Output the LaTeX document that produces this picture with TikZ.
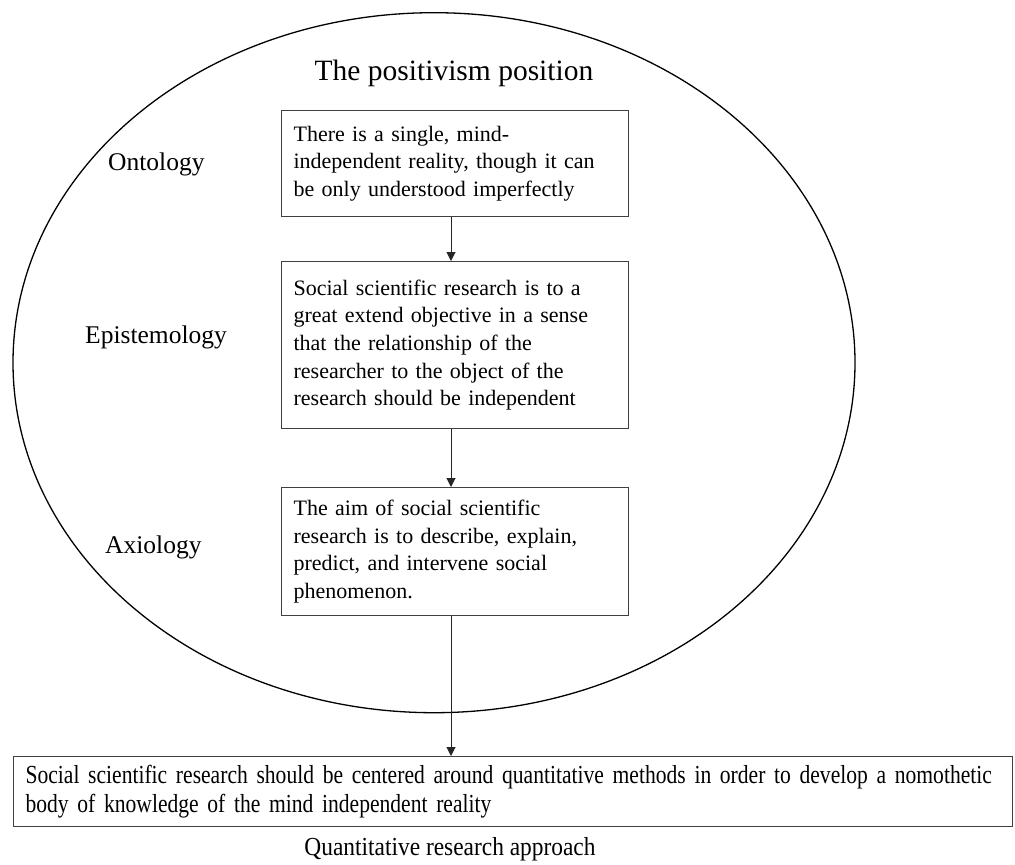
\documentclass[tikz,border=0pt]{standalone}
\usepackage{fontspec}
\setmainfont{Liberation Serif}
\newfontfamily\condfont[FakeStretch=0.83]{Liberation Serif}
\newfontfamily\capfont[FakeStretch=0.9]{Liberation Serif}
\usetikzlibrary{arrows.meta}
\tikzset{
  x=1pt, y=-1pt,
  stepbox/.style={draw=black!75, line width=1.2pt, anchor=north west, align=left,
    inner xsep=12pt, inner ysep=0pt,
    font=\fontsize{22}{27.7}\selectfont},
  lbl/.style={font=\fontsize{25.5}{30}\selectfont, anchor=west, inner sep=0pt},
  arr/.style={draw=black!85, line width=1pt, -{Triangle[length=9pt,width=9pt]}},
}
\begin{document}
\begin{tikzpicture}
\useasboundingbox (0,0) rectangle (1015,865);
\fill[white] (0,0) rectangle (1015,865);
% ellipse
\draw[line width=1.3pt] (434,362.7) ellipse [x radius=421, y radius=350];
% title
\node[font=\fontsize{29.5}{34}\selectfont, inner sep=0pt] (title) at (454,73) {The positivism position};
% labels
\node[lbl] (onto) at (108,164) {Ontology};
\node[lbl] (epis) at (85,337) {Epistemology};
\node[lbl] (axio) at (105,547) {Axiology};
% boxes
\node[stepbox, text width=323pt, minimum height=106pt] (b1) at (281,110)
  {There is a single, mind-\\independent reality, though it can\\be only understood imperfectly};
\node[stepbox, text width=323pt, minimum height=167pt] (b2) at (281,261)
  {Social scientific research is to a\\great extend objective in a sense\\that the relationship of the\\researcher to the object of the\\research should be independent};
\node[stepbox, text width=975pt, minimum height=70pt,
  font=\condfont\fontsize{26}{29.5}\selectfont] (b4) at (13,756)
  {\mbox{Social scientific research should be centered around quantitative methods in order to develop a nomothetic}\\body of knowledge of the mind independent reality};
\node[stepbox, text width=323pt, minimum height=128pt] (b3) at (281,487)
  {The aim of social scientific\\research is to describe, explain,\\predict, and intervene social\\phenomenon.};
% caption
\node[font=\capfont\fontsize{26}{30}\selectfont, inner sep=0pt] (cap) at (450,849) {Quantitative research approach};
% arrows
\coordinate (ax) at (451,0);
\draw[arr] (b1.south -| ax) -- (b2.north -| ax);
\draw[arr] (b2.south -| ax) -- (b3.north -| ax);
\draw[arr] (b3.south -| ax) -- (b4.north -| ax);
\end{tikzpicture}
\end{document}
